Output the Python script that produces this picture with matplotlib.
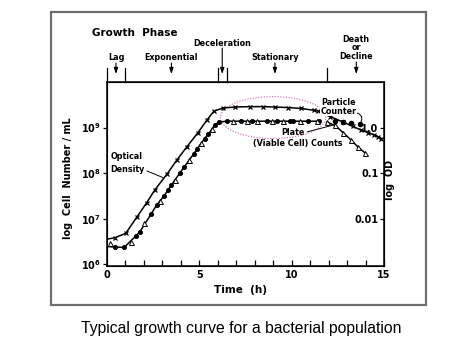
import matplotlib
matplotlib.use("Agg")
import matplotlib.pyplot as plt
from matplotlib.patches import Ellipse, Rectangle

# ---------------- data (log10 cell number / mL) ----------------
od_time = [0, 0.45, 1.03, 1.62, 2.16, 2.6, 3.28, 3.78, 4.32, 4.92, 5.41, 5.8,
           6.3, 6.94, 7.75, 8.47, 9.1, 9.8, 10.5, 11.2, 11.44, 12.1, 12.79,
           13.3, 13.78, 14.14, 14.45, 14.7, 14.86]
od_log = [6.55, 6.585, 6.68, 7.03, 7.35, 7.63, 7.99, 8.28, 8.57, 8.88, 9.16, 9.36,
          9.43, 9.45, 9.46, 9.46, 9.45, 9.44, 9.42, 9.38, 9.36, 9.24, 9.12,
          9.03, 8.94, 8.89, 8.84, 8.80, 8.76]

dot_time = [0, 0.45, 0.94, 1.57, 1.8, 2.4, 2.7, 3.1, 3.3, 3.5, 3.95, 4.2, 4.7,
            4.9, 5.3, 5.5, 5.85, 6.05, 6.49, 7.24, 7.84, 8.65, 9.19, 9.91, 10.1,
            10.9, 11.5]
dot_log = [6.39, 6.38, 6.37, 6.62, 6.72, 7.10, 7.30, 7.50, 7.62, 7.74, 8.00, 8.14,
           8.42, 8.54, 8.76, 8.86, 9.06, 9.12, 9.14, 9.14, 9.14, 9.14, 9.14, 9.14,
           9.14, 9.14, 9.14]

late_dot_time = [12.34, 12.8, 13.24, 13.7]
late_dot_log = [9.15, 9.13, 9.10, 9.08]

tri_time = [0.18, 1.3, 2.03, 2.9, 3.7, 4.45, 5.1, 5.7, 6.81, 7.57, 8.14, 8.92,
            9.55, 10.45, 11.35, 11.9, 12.34, 12.79, 13.24, 13.6, 13.96]
tri_log = [6.46, 6.48, 6.90, 7.40, 7.86, 8.28, 8.66, 8.97, 9.14, 9.14, 9.14, 9.14,
           9.14, 9.14, 9.14, 9.12, 9.05, 8.89, 8.72, 8.57, 8.45]

x_ticks = [0, 5, 10, 15]
y_ticks = [6, 7, 8, 9]
y_labels = ["$\\mathbf{10^6}$", "$\\mathbf{10^7}$", "$\\mathbf{10^8}$", "$\\mathbf{10^9}$"]
od_ticks = [7, 8, 9]
od_labels = ["0.01", "0.1", "1.0"]

phase_bounds = [0, 1.0, 6.0, 6.5, 11.9]
phase_names = ["Lag", "Exponential", "Deceleration", "Stationary", "Death\nor\nDecline"]
phase_arrow_x = [0.5, 3.5, 6.25, 9.1, 13.5]

# ---------------- figure ----------------
W, H = 474, 355
fig = plt.figure(figsize=(W / 100, H / 100), dpi=100)
fig.patches.append(Rectangle((51 / W, 1 - 305 / H), (426 - 51) / W, (305 - 11.7) / H,
                             transform=fig.transFigure, fill=False, ec="#6e6e6e", lw=1.6))

ax = fig.add_axes([106.7 / W, 1 - 265.7 / H, (384 - 106.7) / W, (265.7 - 82) / H])
ax.set_xlim(0, 15)
ax.set_ylim(5.97, 10.0)

lw = 1.1
ax.plot(od_time, od_log, color="black", lw=lw, marker="x", ms=3.5, mew=0.9,
        markevery=list(range(1, len(od_time))), zorder=3)
ax.plot(dot_time, dot_log, color="black", lw=lw, marker="o", ms=3, mew=0.6,
        markevery=list(range(1, len(dot_time))), zorder=3)
ax.plot(tri_time, tri_log, color="black", lw=lw, ls="none", marker="^", ms=3.6,
        mfc="white", mew=0.7, zorder=4)
ax.plot(tri_time[-6:], tri_log[-6:], color="black", lw=lw, zorder=3)
ax.plot(late_dot_time, late_dot_log, ls="none", color="black", marker="o", ms=3, zorder=3)

ax.add_patch(Ellipse((9.0, 9.22), 5.7, 0.92, fill=False, ec="#d27cc0", lw=0.9,
                     ls=(0, (1, 1.2)), zorder=2))

fs = 5.8
ax.set_xticks(x_ticks)
ax.set_xticklabels([str(v) for v in x_ticks], fontsize=7, fontweight="bold")
ax.set_xticks(range(0, 16), minor=True)
ax.tick_params(axis="x", which="both", direction="in", length=4, width=0.9, top=False, pad=3)
ax.set_yticks(y_ticks)
ax.set_yticklabels(y_labels, fontsize=7)
ax.tick_params(axis="y", direction="out", length=3, width=0.9, pad=1)
for s in ax.spines.values():
    s.set_linewidth(1.1)

ax2 = ax.twinx()
ax2.set_ylim(ax.get_ylim())
ax2.set_yticks(od_ticks)
ax2.set_yticklabels(od_labels, fontsize=7, fontweight="bold")
ax2.tick_params(axis="y", direction="in", length=3, width=0.9, pad=-4)
for lbl in ax2.get_yticklabels():
    lbl.set_horizontalalignment("right")
    lbl.set_zorder(6)

fig.text(68 / W, 1 - 178 / H, "log  Cell  Number / mL", rotation=90, fontsize=7,
         fontweight="bold", ha="center", va="center")
fig.text(390 / W, 1 - 180 / H, "log  OD", rotation=90, fontsize=7,
         fontweight="bold", ha="center", va="center")
fig.text(240 / W, 1 - 290 / H, "Time  (h)", fontsize=7.5, fontweight="bold",
         ha="center", va="center")

# annotations
ax.annotate("Optical\nDensity", xy=(3.06, 7.90), xytext=(1.1, 8.22), fontsize=fs,
            fontweight="bold", ha="center", va="center", linespacing=1.6,
            arrowprops=dict(arrowstyle="-", lw=0.7, color="black", shrinkA=0, shrinkB=0,
                            relpos=(1.0, 0.2)))
ax.annotate("Particle\nCounter", xy=(13.72, 9.10), xytext=(12.56, 9.46), fontsize=fs,
            fontweight="bold", ha="center", va="center", linespacing=1.0, zorder=6,
            bbox=dict(boxstyle="square,pad=0.05", fc="white", ec="none"),
            arrowprops=dict(arrowstyle="-", lw=0.7, color="black", shrinkA=0, shrinkB=0,
                            relpos=(1.0, 0.15), connectionstyle="arc3,rad=-0.6"))
ax.annotate("Plate", xy=(12.3, 9.06), xytext=(10.07, 8.89), fontsize=fs,
            fontweight="bold", ha="center", va="center", zorder=6,
            arrowprops=dict(arrowstyle="-", lw=0.7, color="black", shrinkA=0, shrinkB=0,
                            relpos=(1.0, 0.5)))
ax.text(10.34, 8.65, "(Viable Cell) Counts", fontsize=fs, fontweight="bold",
        ha="center", va="center", zorder=6)

# growth phase header
tr = ax.get_xaxis_transform()
hpx = 265.7 - 82
def fy(py):
    return 1 + (82 - py) / hpx

for b in phase_bounds:
    ax.plot([b, b], [fy(82), fy(68)], transform=tr, color="black", lw=0.9, clip_on=False)
for name, xa in zip(phase_names, phase_arrow_x):
    if name == "Deceleration":
        ytxt, ya0 = fy(43), fy(48)
    elif name.startswith("Death"):
        ytxt, ya0 = fy(48), fy(62)
    else:
        ytxt, ya0 = fy(57), fy(63)
    ax.text(xa, ytxt, name, transform=tr, fontsize=fs, fontweight="bold", ha="center",
            va="center", linespacing=0.95)
    ax.annotate("", xy=(xa, fy(74)), xytext=(xa, ya0), xycoords=tr, textcoords=tr,
                arrowprops=dict(arrowstyle="-|>,head_length=0.35,head_width=0.12",
                                lw=0.8, color="black", shrinkA=0, shrinkB=0))
fig.text(92 / W, 1 - 33 / H, "Growth  Phase", fontsize=7.5, fontweight="bold",
         ha="left", va="center")

fig.text(241 / W, 1 - 328 / H, "Typical growth curve for a bacterial population",
         fontsize=11.3, family="Liberation Sans", ha="center", va="center")

fig.savefig("out.png", dpi=100)
